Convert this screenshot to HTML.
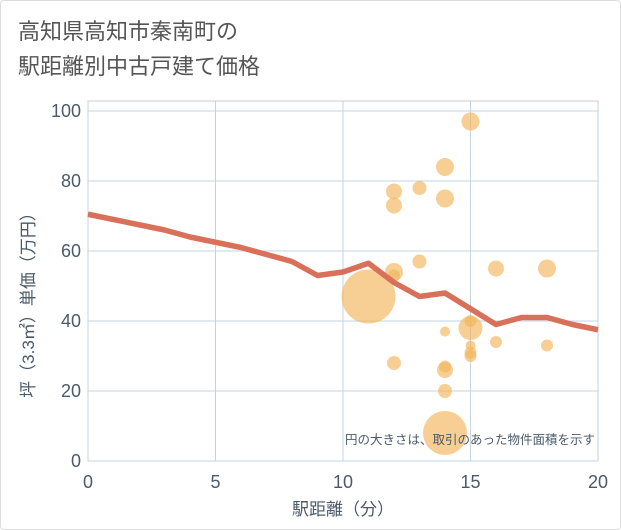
<!DOCTYPE html>
<html><head><meta charset="utf-8"><style>
body{margin:0;background:#fff;font-family:"Liberation Sans","Noto Sans CJK JP",sans-serif;}
#wrap{position:relative;width:621px;height:530px;background:#fff;box-sizing:border-box;border:1px solid #ddd;border-radius:4px;overflow:hidden;}
.title{position:absolute;left:17px;top:13px;font-size:22px;line-height:35px;color:#555;}
</style></head><body>
<div id="wrap">
<div class="title">高知県高知市秦南町の<br>駅距離別中古戸建て価格</div>
<svg id="chart" width="621" height="530" style="position:absolute;left:0;top:0"></svg>
</div>
<script>
const xTicks=[0,5,10,15,20];
const yTicks=[0,20,40,60,80,100];
const lineX=[0,1,2,3,4,5,6,7,8,9,10,11,12,13,14,15,16,17,18,19,20];
const lineY=[70.5,69,67.5,66,64,62.5,61,59,57,53,54,56.5,51,47,48,43.5,39,41,41,39,37.5];
const ptX=[11,12,12,12,12,12,13,13,14,14,14,14,14,14,14,15,15,15,15,15,15,16,16,18,18];
const ptY=[47,77,73,54,53,28,78,57,84,75,37,27,26,20,8,97,38,40,33,31,30,55,34,55,33];
const ptR=[27,8,8,9,6,7,7,7,9,9,5,6,8,7,22,9,12,6,5,6,6,8,6,9,6];
const L=87,R=597,T=100,B=460;
const sx=v=>L+(v-0)/20*(R-L);
const sy=v=>B-v/100*350;
const svg=document.getElementById('chart');
const NS='http://www.w3.org/2000/svg';
function mk(t,a){const e=document.createElementNS(NS,t);for(const k in a)e.setAttribute(k,a[k]);svg.appendChild(e);return e;}
let e=mk('rect',{x:L,y:T,width:R-L,height:B-T,fill:'#fff',stroke:'#ccc'});


xTicks.forEach(v=>{
 let g=mk('line',{x1:sx(v),x2:sx(v),y1:T,y2:B,stroke:'#c5d3e0'});
 
 
 let t=mk('text',{x:sx(v),y:B+27,'text-anchor':'middle','font-size':18,fill:'#4a5a6a'});
 t.textContent=v;
 
 
});
yTicks.forEach(v=>{
 let g=mk('line',{x1:L,x2:R,y1:sy(v),y2:sy(v),stroke:'#c5d3e0'});
 
 
 let t=mk('text',{x:L-7,y:sy(v)+6,'text-anchor':'end','font-size':18,fill:'#4a5a6a'});
 t.textContent=v;
 
 
});
ptX.forEach((x,i)=>{
 let c=mk('circle',{cx:sx(x),cy:sy(ptY[i]),r:ptR[i],fill:'#f2b55a','fill-opacity':0.65});
 
 
});
let p=mk('polyline',{points:lineX.map((x,i)=>sx(x)+','+sy(lineY[i])).join(' '),fill:'none',stroke:'#d9705a','stroke-width':5.5,'stroke-linejoin':'round'});


let n=mk('text',{x:594,y:443,'text-anchor':'end','font-size':12.5,fill:'#4a5a6a'});
n.textContent='円の大きさは、取引のあった物件面積を示す';


let xt=mk('text',{x:(L+R)/2,y:514,'text-anchor':'middle','font-size':17,fill:'#4a5a6a'});
xt.textContent='駅距離（分）';


let yt=mk('text',{x:0,y:0,'text-anchor':'middle','font-size':17,fill:'#4a5a6a',transform:'translate(33,300) rotate(-90)'});
yt.textContent='坪（3.3㎡）単価（万円）';


</script>
</body></html>
